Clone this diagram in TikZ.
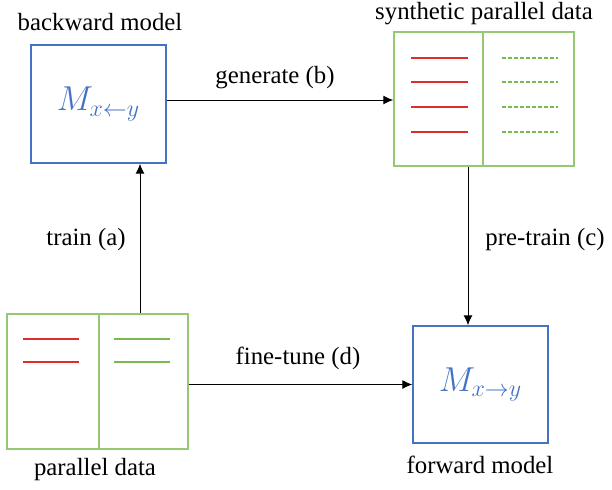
\documentclass[tikz,border=0pt]{standalone}
\usepackage{fontspec}
\setmainfont{Liberation Serif}
\DeclareMathSizes{16}{16}{12}{9}
\usetikzlibrary{arrows.meta}
\definecolor{modelblue}{RGB}{68,114,196}
\definecolor{pageframe}{RGB}{150,200,115}
\definecolor{srcred}{RGB}{222,45,45}
\definecolor{tgtgreen}{RGB}{120,185,80}

\begin{document}
\begin{tikzpicture}[x=0.5pt, y=-0.5pt, font=\fontsize{12.4}{15}\selectfont,
    model/.style={draw=modelblue, line width=0.7pt, minimum width=67.5pt, minimum height=59pt, inner sep=0pt, text=modelblue, font=\fontsize{16}{19}\selectfont},
    datapage/.style={draw=pageframe, line width=0.7pt, inner sep=0pt},
    srcline/.style={draw=srcred, line width=0.6pt},
    tgtline/.style={draw=tgtgreen, line width=0.6pt},
    arr/.style={-{Latex[length=5pt, width=4.5pt]}, line width=0.5pt}]
\useasboundingbox (0,0) rectangle (612,489);

% Models
\node[model] (bwd) at (98.5,104) {$M_{x\leftarrow y}$};
\node[model, minimum height=58.5pt] (fwd) at (480.5,384.5) {$M_{x\rightarrow y}$};
\node (bwdlabel) at (100,22) {backward model};
\node (fwdlabel) at (480,465) {forward model};

% Synthetic parallel data
\node[datapage, minimum width=90pt, minimum height=67pt] (synth) at (484,99) {};
\draw[datapage] (synth.north -| 483,0) -- (synth.south -| 483,0);
\foreach \y in {58,82,107,132} {
    \draw[srcline] (411,\y) -- (468,\y);
    \draw[tgtline, dash pattern=on 2pt off 1pt] (502,\y) -- (558,\y);
}
\node (synthlabel) at (484,14) {synthetic parallel data};

% Parallel data
\node[datapage, minimum width=90.5pt, minimum height=67.5pt] (par) at (97.5,381.5) {};
\draw[datapage] (par.north -| 99,0) -- (par.south -| 99,0);
\foreach \y in {339,362} {
    \draw[srcline] (23,\y) -- (79,\y);
    \draw[tgtline] (114,\y) -- (170,\y);
}
\node (parlabel) at (95,470) {parallel data};

% Steps
\draw[arr] (par.north -| 140,0) -- (bwd.south -| 140,0);
\node (train) at (86,240) {train (a)};
\draw[arr] (bwd.east |- 0,100) -- (synth.west |- 0,100);
\node (generate) at (275,78) {generate (b)};
\draw[arr] (synth.south -| 468,0) -- (fwd.north -| 468,0);
\node (pretrain) at (545,240) {pre-train (c)};
\draw[arr] (par.east |- fwd.west) -- (fwd.west);
\node (finetune) at (298,358) {fine-tune (d)};
\end{tikzpicture}
\end{document}
